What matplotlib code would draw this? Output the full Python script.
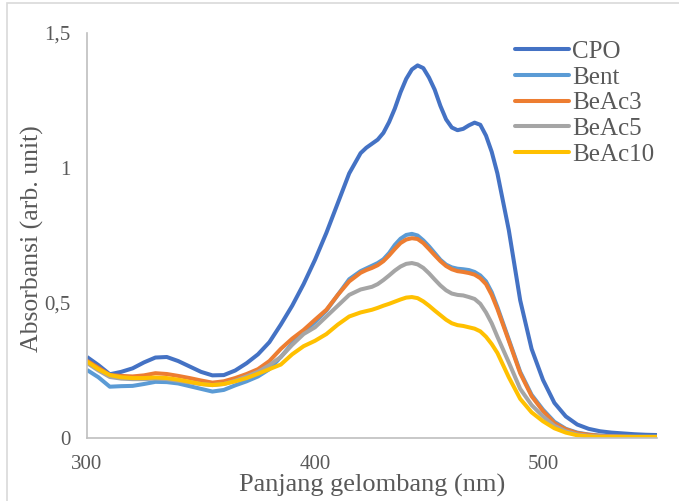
import matplotlib.pyplot as plt
from matplotlib.patches import Rectangle

plt.rcParams['font.family'] = ['Liberation Serif', 'DejaVu Serif']

# 5 nm steps, with 2.5 nm steps around the peaks
wavelength = (list(range(300, 421, 5))
              + [422.5 + 2.5 * i for i in range(24)]
              + list(range(485, 551, 5)))

cpo = [0.300, 0.270, 0.236, 0.245, 0.258, 0.280, 0.298, 0.300, 0.285, 0.265,
       0.245, 0.232, 0.233, 0.250, 0.277, 0.310, 0.355, 0.420, 0.490, 0.570,
       0.660, 0.760, 0.870, 0.980, 1.055,
       1.075, 1.090, 1.105, 1.130, 1.170, 1.220, 1.280, 1.330, 1.365, 1.380,
       1.370, 1.335, 1.290, 1.230, 1.180, 1.150, 1.140, 1.145, 1.158, 1.168,
       1.160, 1.120, 1.060, 0.980,
       0.770, 0.510, 0.330, 0.215, 0.130, 0.080, 0.050, 0.034, 0.025, 0.020,
       0.017, 0.014, 0.012, 0.011]
bent = [0.252, 0.225, 0.190, 0.192, 0.193, 0.200, 0.208, 0.207, 0.202, 0.192,
        0.182, 0.172, 0.178, 0.195, 0.210, 0.228, 0.255, 0.300, 0.350, 0.392,
        0.430, 0.472, 0.530, 0.588, 0.618,
        0.628, 0.638, 0.648, 0.662, 0.685, 0.715, 0.738, 0.752, 0.756, 0.750,
        0.732, 0.710, 0.685, 0.660, 0.642, 0.632, 0.627, 0.625, 0.622, 0.615,
        0.602, 0.580, 0.540, 0.485,
        0.365, 0.245, 0.160, 0.105, 0.060, 0.034, 0.020, 0.013, 0.009, 0.007,
        0.006, 0.005, 0.005, 0.005]
beac3 = [0.286, 0.260, 0.233, 0.230, 0.228, 0.232, 0.240, 0.237, 0.230, 0.222,
         0.213, 0.205, 0.210, 0.222, 0.237, 0.255, 0.285, 0.330, 0.368, 0.400,
         0.438, 0.475, 0.530, 0.580, 0.612,
         0.622, 0.630, 0.640, 0.655, 0.676, 0.700, 0.722, 0.735, 0.740, 0.737,
         0.722, 0.700, 0.677, 0.655, 0.637, 0.625, 0.618, 0.615, 0.611, 0.605,
         0.592, 0.570, 0.530, 0.478,
         0.360, 0.240, 0.155, 0.100, 0.055, 0.032, 0.018, 0.012, 0.008, 0.006,
         0.005, 0.004, 0.004, 0.004]
beac5 = [0.278, 0.250, 0.226, 0.220, 0.218, 0.218, 0.220, 0.218, 0.212, 0.206,
         0.200, 0.196, 0.200, 0.212, 0.228, 0.245, 0.270, 0.300, 0.345, 0.385,
         0.410, 0.450, 0.490, 0.530, 0.550,
         0.555, 0.560, 0.570, 0.585, 0.602, 0.620, 0.635, 0.645, 0.648, 0.643,
         0.630, 0.610, 0.587, 0.565, 0.547, 0.535, 0.530, 0.528, 0.522, 0.515,
         0.497, 0.465, 0.425, 0.375,
         0.280, 0.182, 0.122, 0.080, 0.045, 0.025, 0.013, 0.008, 0.006, 0.005,
         0.004, 0.004, 0.004, 0.004]
beac10 = [0.283, 0.255, 0.233, 0.225, 0.222, 0.222, 0.224, 0.222, 0.216, 0.208,
          0.200, 0.196, 0.200, 0.210, 0.222, 0.238, 0.255, 0.272, 0.310, 0.340,
          0.360, 0.385, 0.420, 0.450, 0.465,
          0.470, 0.475, 0.482, 0.490, 0.497, 0.505, 0.513, 0.520, 0.522, 0.518,
          0.506, 0.490, 0.472, 0.455, 0.438, 0.425, 0.418, 0.415, 0.410, 0.405,
          0.395, 0.375, 0.348, 0.315,
          0.225, 0.145, 0.095, 0.062, 0.036, 0.020, 0.010, 0.006, 0.004, 0.004,
          0.004, 0.004, 0.004, 0.004]

series = [
    ('CPO', cpo, '#4472C4'),
    ('Bent', bent, '#5B9BD5'),
    ('BeAc3', beac3, '#ED7D31'),
    ('BeAc5', beac5, '#A5A5A5'),
    ('BeAc10', beac10, '#FFC000'),
]

fig = plt.figure(figsize=(6.79, 5.01), dpi=100)
fig.patches.append(Rectangle((7 / 679, -0.1), 1.2, 1 - 3 / 501 + 0.1,
                             transform=fig.transFigure, fill=False,
                             edgecolor='#D9D9D9', linewidth=1.2))

ax = fig.add_axes([87 / 679, 1 - 438 / 501, 570 / 679, 405 / 501])

for name, values, color in series:
    ax.plot(wavelength, values, color=color, linewidth=2.9, label=name,
            solid_capstyle='butt', solid_joinstyle='round')

ax.set_xlim(300, 550)
ax.set_ylim(0, 1.5)
ax.set_xticks([300, 400, 500])
ax.set_yticks([0, 0.5, 1, 1.5])
ax.set_yticklabels(['0', '0,5', '1', '1,5'])

for side in ['top', 'right']:
    ax.spines[side].set_visible(False)
for side in ['left', 'bottom']:
    ax.spines[side].set_color('#BFBFBF')
    ax.spines[side].set_linewidth(1.2)

ax.tick_params(length=0, labelsize=15, colors='#595959', pad=12)
ax.set_xlabel('Panjang gelombang (nm)', fontsize=19, color='#595959', labelpad=0)
ax.set_ylabel('Absorbansi (arb. unit)', fontsize=18.5, color='#595959')
ax.yaxis.set_label_coords(-0.076, 0.493)

leg = ax.legend(loc='upper left', bbox_to_anchor=(0.751, 0.982), frameon=False,
                fontsize=18, handlelength=2.15, handletextpad=0.12,
                labelspacing=0.13, borderaxespad=0, borderpad=0)
for text in leg.get_texts():
    text.set_color('#595959')
for line in leg.get_lines():
    line.set_solid_capstyle('round')

plt.savefig('out.png', dpi=100)
plt.close()
